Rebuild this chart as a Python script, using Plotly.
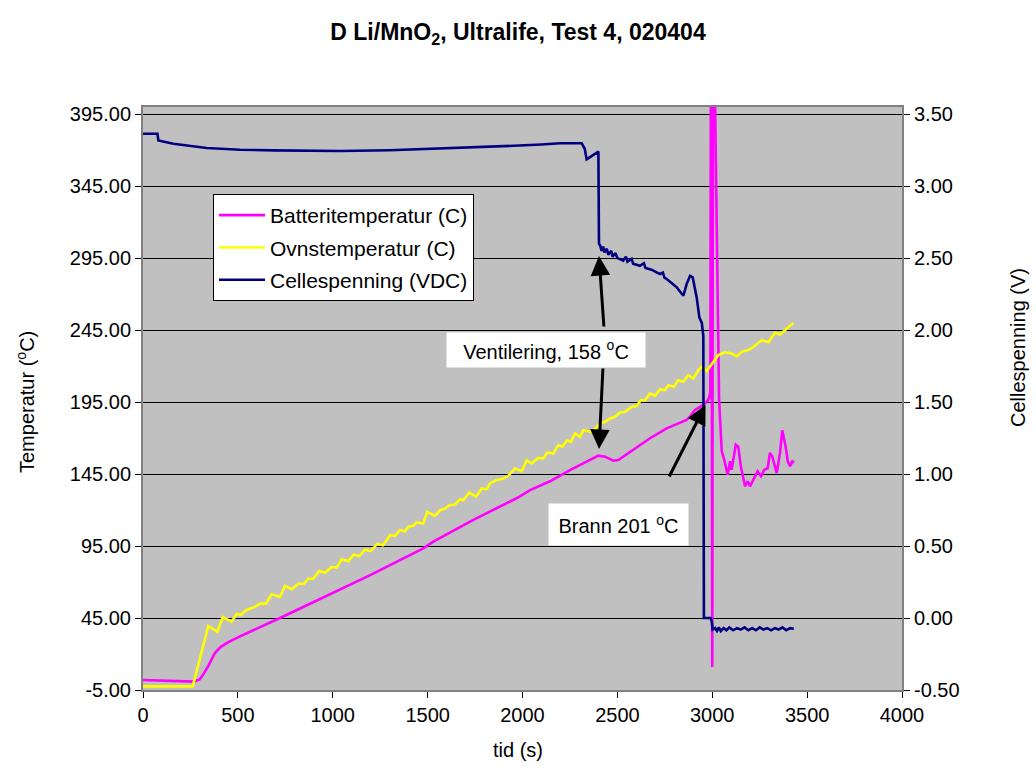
import plotly.graph_objects as go

# Batteritemperatur (C)
batt_t = [0, 270, 300, 318, 345, 379, 410, 450, 511, 600, 722, 850, 1038, 1200, 1302,
          1477, 1530, 1741, 1969, 2040, 2145, 2198, 2250, 2320, 2370, 2400, 2435, 2479,
          2505, 2584, 2672, 2760, 2865, 2883, 2909, 2953, 2979, 2990, 2995, 3000, 3005,
          3012, 3022, 3036, 3050, 3063, 3081, 3094, 3102, 3124, 3137, 3151, 3173, 3187,
          3199, 3216, 3239, 3257, 3274, 3292, 3304, 3316, 3340, 3357, 3369, 3387, 3398,
          3410, 3422, 3431]
batt_T = [1.9, 0.8, 2.5, 5.9, 12.0, 20.7, 25.0, 28.3, 32.3, 37.5, 45.0, 53.0, 64.7, 75.0, 81.8,
          93.4, 98.1, 113.2, 128.2, 133.9, 140.0, 144.0, 147.8, 152.4, 155.5, 157.8, 157.1, 154.3,
          154.8, 161.7, 169.9, 176.8, 182.6, 184.9, 189.5, 193.0, 196.5, 201.0, 600.0, 11.0, 600.0,
          430.0, 322.0, 197.0, 160.8, 155.0, 144.6, 154.0, 148.0, 165.4, 164.0, 150.0, 136.5, 140.0,
          136.5, 141.0, 147.0, 143.5, 148.0, 149.0, 159.7, 157.4, 145.7, 159.7, 175.4, 164.0, 153.8,
          150.5, 153.8, 153.0]

# Ovnstemperatur (C)
oven_t = [0, 262, 344, 392, 420, 467, 494, 515, 543, 590, 617, 648, 678, 722, 748, 784, 818,
          848, 871, 897, 929, 959, 994, 1021, 1047, 1082, 1110, 1140, 1170, 1200, 1235, 1265,
          1302, 1328, 1354, 1381, 1398, 1425, 1442, 1477, 1498, 1539, 1565, 1592, 1614, 1644,
          1671, 1688, 1720, 1755, 1785, 1811, 1829, 1860, 1899, 1925, 1960, 1996, 2022, 2048,
          2083, 2110, 2131, 2162, 2189, 2210, 2235, 2255, 2277, 2303, 2320, 2364, 2391, 2408,
          2435, 2461, 2487, 2514, 2540, 2575, 2602, 2623, 2646, 2672, 2698, 2725, 2751, 2768,
          2798, 2821, 2847, 2874, 2900, 2927, 2944, 2971, 3006, 3032, 3067, 3100, 3129, 3155,
          3190, 3217, 3260, 3296, 3331, 3357, 3392, 3427]
oven_T = [-2.5, -2.5, 39.5, 35.5, 45.7, 42.5, 48.0, 47.1, 50.4, 52.7, 55.0, 55.0, 61.5, 59.6,
          67.2, 65.0, 68.8, 68.8, 72.3, 72.3, 77.7, 76.5, 80.4, 80.0, 85.8, 84.5, 89.0, 88.0,
          92.5, 91.5, 96.5, 95.5, 102.5, 102.1, 106.0, 105.3, 108.4, 109.1, 111.4, 110.7, 118.8,
          116.0, 119.9, 121.1, 123.4, 123.9, 127.5, 126.8, 132.2, 129.2, 135.0, 134.5, 138.5,
          140.7, 141.9, 143.8, 148.9, 147.0, 154.6, 152.3, 156.3, 155.8, 160.0, 159.3, 165.1,
          164.0, 168.5, 167.4, 173.2, 170.9, 175.5, 174.3, 177.8, 180.1, 181.3, 183.6, 184.8,
          187.8, 188.3, 191.7, 192.4, 196.3, 196.3, 201.0, 199.4, 204.0, 203.3, 206.7, 205.6,
          210.2, 209.1, 213.7, 211.4, 217.2, 219.5, 216.5, 223.0, 227.6, 229.6, 229.0, 226.7,
          229.9, 231.2, 233.4, 237.9, 236.6, 243.3, 242.0, 246.0, 250.0]

# Cellespenning (VDC)
volt_t = [0, 76, 81, 160, 336, 511, 687, 863, 1038, 1300, 1600, 1900, 2100, 2198, 2312, 2328,
          2338, 2391, 2400, 2403, 2410, 2417, 2425, 2432, 2444, 2452, 2468, 2475, 2490, 2500,
          2531, 2545, 2553, 2575, 2583, 2619, 2640, 2648, 2680, 2707, 2725, 2740, 2748, 2760,
          2790, 2813, 2835, 2848, 2865, 2883, 2897, 2909, 2918, 2932, 2945, 2953, 2956, 2990,
          2997, 3002, 3015, 3025, 3035, 3045, 3060, 3075, 3090, 3110, 3130, 3150, 3170, 3190,
          3210, 3230, 3250, 3270, 3290, 3310, 3330, 3350, 3370, 3390, 3410, 3430]
volt_V = [3.364, 3.364, 3.318, 3.295, 3.265, 3.253, 3.249, 3.244, 3.244, 3.250, 3.262, 3.278,
          3.290, 3.298, 3.298, 3.260, 3.187, 3.233, 3.240, 2.600, 2.585, 2.551, 2.580, 2.540,
          2.565, 2.525, 2.550, 2.510, 2.535, 2.500, 2.482, 2.510, 2.475, 2.495, 2.462, 2.447,
          2.465, 2.432, 2.420, 2.401, 2.390, 2.400, 2.365, 2.355, 2.320, 2.297, 2.260, 2.239,
          2.320, 2.377, 2.366, 2.297, 2.227, 2.088, 2.050, 1.960, 0.000, 0.000, -0.020, -0.080,
          -0.070, -0.090, -0.065, -0.090, -0.070, -0.085, -0.065, -0.085, -0.070, -0.080, -0.065,
          -0.085, -0.070, -0.085, -0.065, -0.080, -0.070, -0.085, -0.070, -0.080, -0.065, -0.085,
          -0.070, -0.075]

temp_ticks = [-5, 45, 95, 145, 195, 245, 295, 345, 395]
volt_ticks = [-0.5, 0.0, 0.5, 1.0, 1.5, 2.0, 2.5, 3.0, 3.5]
time_ticks = [0, 500, 1000, 1500, 2000, 2500, 3000, 3500, 4000]

FONT = "Liberation Sans, Arial, sans-serif"
W, H = 1036, 767
L, R, T, B = 143, 134, 107, 77
PW, PH = W - L - R, H - T - B


def px(xp):
    return (xp - L) / PW


def py(yp):
    return (H - B - yp) / PH


fig = go.Figure()
fig.add_trace(go.Scatter(x=batt_t, y=batt_T, mode="lines", name="Batteritemperatur (C)",
                         legendgroup="g1", line=dict(color="#FF00FF", width=2.6)))
fig.add_trace(go.Scatter(x=oven_t, y=oven_T, mode="lines", name="Ovnstemperatur (C)",
                         legendgroup="g2", line=dict(color="#FFFF00", width=2.6)))
fig.add_trace(go.Scatter(x=volt_t, y=volt_V, mode="lines", name="Cellespenning (VDC)",
                         legendgroup="g3", line=dict(color="#000080", width=2.6), yaxis="y2"))

axis_common = dict(showline=True, linecolor="#808080", linewidth=2, ticks="outside",
                   ticklen=6, tickcolor="black", tickwidth=1,
                   tickfont=dict(family=FONT, size=20, color="black"), zeroline=False)

fig.update_layout(
    width=W, height=H,
    margin=dict(l=L, r=R, t=T, b=B),
    paper_bgcolor="white",
    plot_bgcolor="#C0C0C0",
    font=dict(family=FONT, size=20, color="black"),
    title=dict(text="<b>D Li/MnO<sub>2</sub>, Ultralife, Test 4, 020404</b>",
               x=0.5, xanchor="center", y=1 - 32 / H, yanchor="middle",
               font=dict(family=FONT, size=23, color="black")),
    xaxis=dict(range=[0, 4000], tickvals=time_ticks, ticktext=[str(v) for v in time_ticks],
               showgrid=False, mirror=True, **axis_common),
    yaxis=dict(range=[-5, 400], tickvals=temp_ticks, ticktext=[f"{v:.2f}" for v in temp_ticks],
               showgrid=True, gridcolor="black", gridwidth=1, **axis_common),
    yaxis2=dict(range=[-0.5, 3.55], overlaying="y", side="right",
                tickvals=volt_ticks, ticktext=[f"{v:.2f}" for v in volt_ticks],
                showgrid=False, **axis_common),
    legend=dict(x=px(213), y=py(194), xanchor="left", yanchor="top",
                bgcolor="white", bordercolor="black", borderwidth=1,
                font=dict(family=FONT, size=21, color="black"),
                tracegroupgap=2, itemwidth=46),
    showlegend=True,
)

annotations = [
    dict(text="tid (s)", x=px(518), y=py(750), xref="paper", yref="paper",
         xanchor="center", yanchor="middle", showarrow=False, font=dict(size=20)),
    dict(text="Temperatur (<sup>o</sup>C)", x=px(25), y=py(402), xref="paper", yref="paper",
         xanchor="center", yanchor="middle", showarrow=False, textangle=-90,
         font=dict(size=20)),
    dict(text="Cellespenning (V)", x=px(1018), y=py(348), xref="paper", yref="paper",
         xanchor="center", yanchor="middle", showarrow=False, textangle=-90,
         font=dict(size=20)),
    dict(text="Ventilering, 158 <sup>o</sup>C", x=px(546), y=py(350), xref="paper", yref="paper",
         xanchor="center", yanchor="middle", showarrow=False, bgcolor="white",
         width=194, height=30, borderpad=2, font=dict(size=20)),
    dict(text="Brann 201 <sup>o</sup>C", x=px(618.5), y=py(524.5), xref="paper", yref="paper",
         xanchor="center", yanchor="middle", showarrow=False, bgcolor="white",
         width=135, height=37, borderpad=2, font=dict(size=20)),
]

# arrows: head at (x, y), tail offset in pixels
arrows = [
    (px(599), py(256), 5, 72),
    (px(599), py(449), 4, -82),
    (px(705.5), py(405), -37, 73),
]
for hx, hy, ax, ay in arrows:
    annotations.append(dict(text="", x=hx, y=hy, xref="paper", yref="paper",
                            showarrow=True, ax=ax, ay=ay, axref="pixel", ayref="pixel",
                            arrowhead=2, arrowsize=1.3, arrowwidth=3, arrowcolor="black",
                            standoff=0))

fig.update_layout(annotations=annotations)
fig.write_html("out.html")
